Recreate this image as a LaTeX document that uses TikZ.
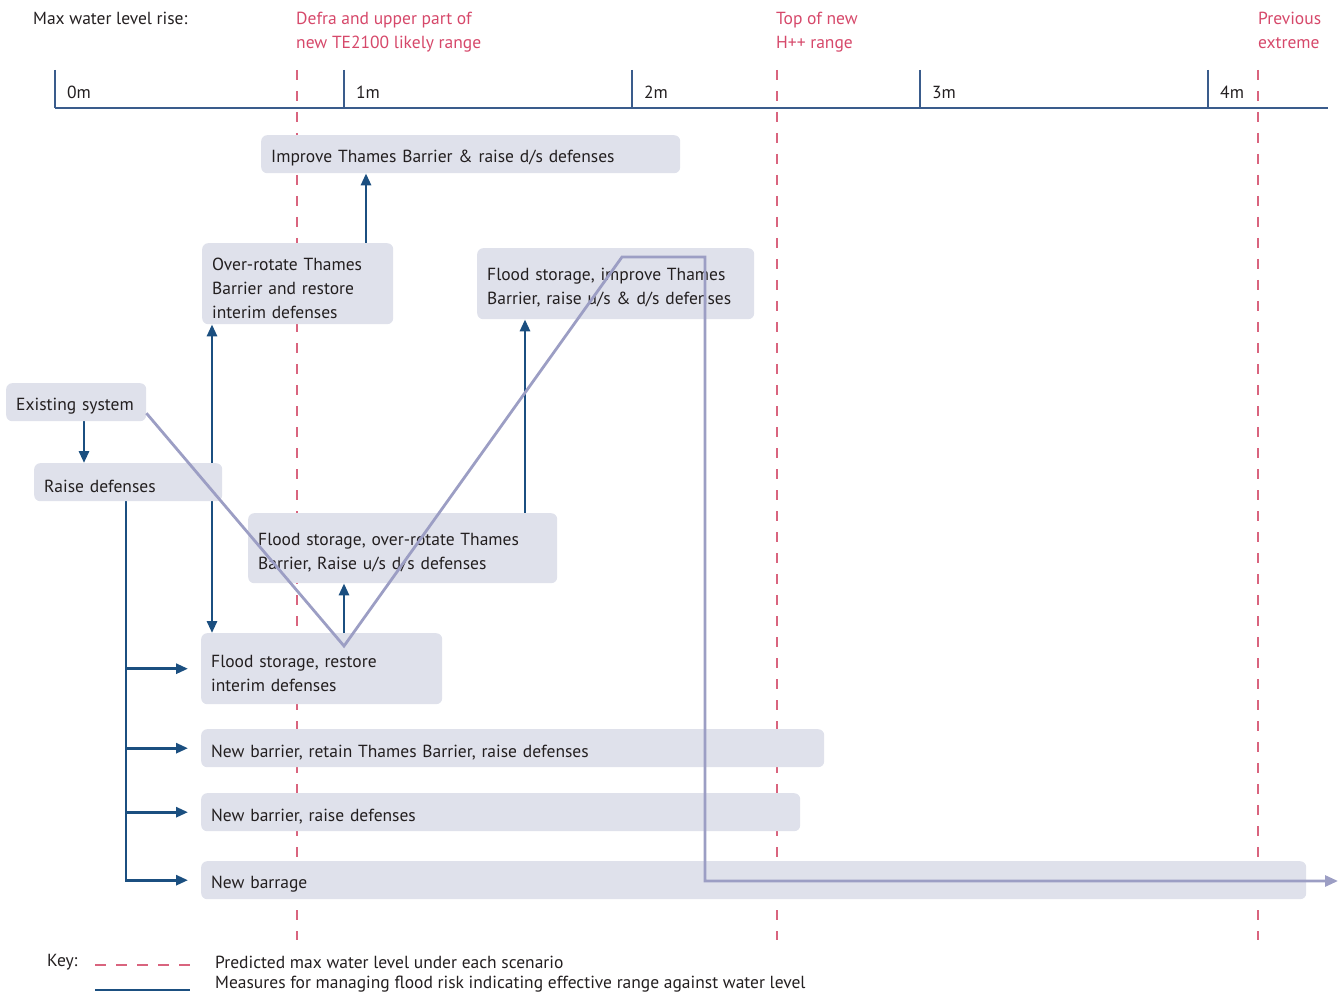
\documentclass[tikz,border=0pt]{standalone}
\usepackage{fontspec}
\setmainfont{PT Sans}
\usetikzlibrary{arrows.meta,calc}
\definecolor{boxfill}{HTML}{DFE1EB}
\definecolor{measblue}{HTML}{1B4F80}
\definecolor{axisblue}{HTML}{3A5C8C}
\definecolor{levelred}{HTML}{D6486A}
\definecolor{dashred}{HTML}{D9647E}
\definecolor{pathgray}{HTML}{9C9EC4}
\definecolor{txt}{HTML}{231F20}
\pgfdeclarelayer{bg}
\pgfsetlayers{bg,main}
\tikzset{
  x=1pt, y=-1pt,
  every node/.style={font=\fontsize{17.5}{24}\selectfont, text=txt},
  optbox/.style={fill=boxfill, rounded corners=6pt, anchor=north west, inner xsep=10pt, inner ysep=0pt, align=left},
  lvl/.style={dashred, line width=1.4pt, dash pattern=on 10pt off 11pt},
  lvllabel/.style={anchor=north west, text=levelred, align=left, inner sep=0pt},
  meas/.style={measblue, line width=2.8pt, -{Triangle[length=12pt,width=10pt]}},
  measplain/.style={measblue, line width=2.8pt},
  path/.style={pathgray, line width=2.8pt, -{Triangle[length=13pt,width=11pt]}},
  axisline/.style={axisblue, line width=1.8pt},
  ticklabel/.style={anchor=west, inner sep=0pt}
}
\newcommand{\optnode}[6]{\node[optbox, minimum width=#4pt, minimum height=#5pt, text width=#4pt-20pt] (#1) at (#2,#3) {\rule{0pt}{21pt}#6};}
\begin{document}
\begin{tikzpicture}
\useasboundingbox (0,0) rectangle (1341,992);

% header
\node[anchor=north west, inner sep=0pt] (hdr) at (33,12) {Max water level rise:};
\node[lvllabel] (l1) at (296,12) {Defra and upper part of\\new TE2100 likely range};
\node[lvllabel] (l2) at (776,12) {Top of new\\H++ range};
\node[lvllabel] (l3) at (1258,12) {Previous\\extreme};

% axis
\coordinate (ax0) at (55,108);
\coordinate (ax1) at (1328,108);
\draw[axisline] (ax0) -- (ax1);
\foreach \xx/\lab in {55/0m,344/1m,632/2m,920/3m,1208/4m}{
  \coordinate (t\lab) at (\xx,70);
  \draw[axisline] (t\lab) -- (t\lab |- ax0);
  \node[ticklabel] (tl\lab) at (\xx+12,92) {\lab};
}

% boxes
\optnode{b1}{261}{135}{419}{38}{Improve Thames Barrier \& raise d/s defenses}
\optnode{b2}{202}{243}{191}{81}{Over-rotate Thames\\Barrier and restore\\interim defenses}
\optnode{b3}{477}{248}{277}{71}{Flood storage, improve Thames\\Barrier, raise u/s \& d/s defenses}
\optnode{b4}{6}{383}{140}{38}{Existing system}
\optnode{b5}{34}{463}{188}{38}{Raise defenses}
\optnode{b6}{248}{513}{309}{70}{Flood storage, over-rotate Thames\\Barrier, Raise u/s d/s defenses}
\optnode{b7}{201}{633}{241}{71}{Flood storage, restore\\interim defenses}
\optnode{b8}{201}{729}{623}{38}{New barrier, retain Thames Barrier, raise defenses}
\optnode{b9}{201}{793}{599}{38}{New barrier, raise defenses}
\optnode{b10}{201}{861}{1105}{38}{New barrage}

\coordinate (x84) at (84,0);
\coordinate (x126) at (126,0);
\coordinate (x212) at (212,0);
\coordinate (x344) at (344,0);
\coordinate (x366) at (366,0);
\coordinate (x525) at (525,0);

\begin{pgfonlayer}{bg}
  % predicted levels
  \foreach \xx/\nm in {297/d1,777/d2,1258/d3}{
    \coordinate (\nm a) at (\xx,70);
    \coordinate (\nm b) at (\xx,940);
    \draw[lvl] (\nm a) -- (\nm b);
  }
  % measures
  \draw[meas] (b4.south -| x84) -- (b5.north -| x84);
  \draw[measblue, line width=2.8pt, {Triangle[length=12pt,width=10pt]}-{Triangle[length=12pt,width=10pt]}] (b2.south -| x212) -- (b7.north -| x212);
  \draw[meas] (b2.north -| x366) -- (b1.south -| x366);
  \draw[meas] (b7.north -| x344) -- (b6.south -| x344);
  \draw[meas] (b6.north -| x525) -- (b3.south -| x525);
  \draw[meas] (b5.south -| x126) |- ($(b10.west)+(-13,0)$);
  \draw[meas] (x126 |- b7.west) -- ($(b7.west)+(-13,0)$);
  \draw[meas] (x126 |- b8.west) -- ($(b8.west)+(-13,0)$);
  \draw[meas] (x126 |- b9.west) -- ($(b9.west)+(-13,0)$);
\end{pgfonlayer}

% scenario path
\coordinate (p1) at (344,646);
\coordinate (p2) at (622,257);
\coordinate (p3) at (705,257);
\coordinate (p4) at (705,881);
\coordinate (p5) at (1338,881);
\draw[path, line join=miter] ($(b4.east)+(0,11)$) -- (p1) -- (p2) -- (p3) -- (p4) -- (p5);

% key
\node[anchor=west, inner sep=0pt] (key) at (47,962) {Key:};
\coordinate (k1a) at (95,965);
\coordinate (k1b) at (190,965);
\draw[dashred, line width=1.4pt, dash pattern=on 11pt off 10pt] (k1a) -- (k1b);
\coordinate (k2a) at (95,990);
\coordinate (k2b) at (190,990);
\draw[measplain] (k2a) -- (k2b);
\node[anchor=west, inner sep=0pt] (kt1) at (215,962) {Predicted max water level under each scenario};
\node[anchor=west, inner sep=0pt] (kt2) at (215,984) {Measures for managing flood risk indicating effective range against water level};
\end{tikzpicture}
\end{document}
